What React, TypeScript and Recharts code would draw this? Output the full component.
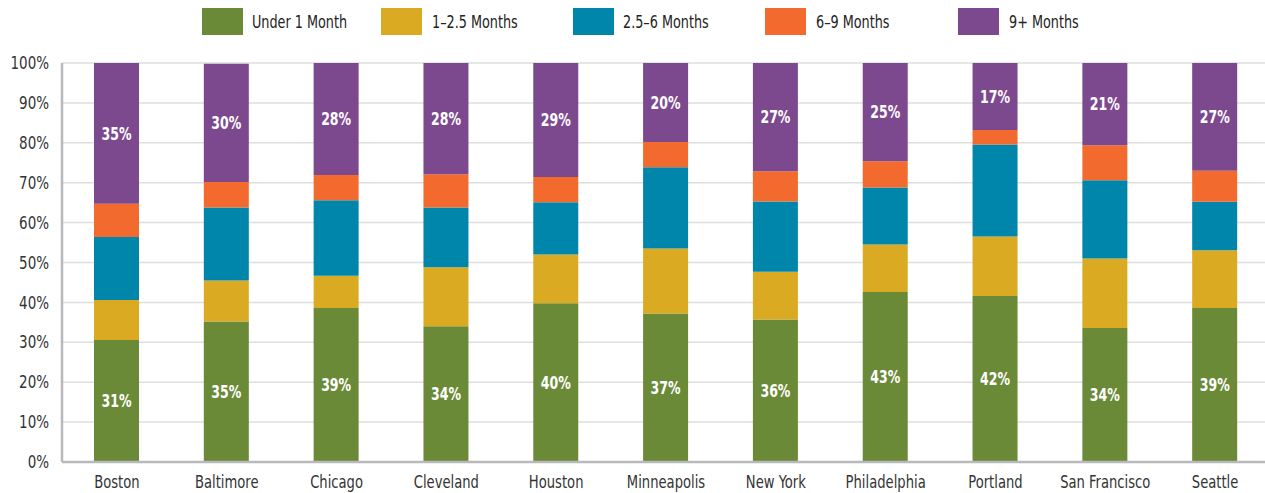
import React from "react";
import {
    BarChart,
    Bar,
    XAxis,
    YAxis,
    CartesianGrid,
    LabelList,
} from "recharts";

const cities = [
    "Boston",
    "Baltimore",
    "Chicago",
    "Cleveland",
    "Houston",
    "Minneapolis",
    "New York",
    "Philadelphia",
    "Portland",
    "San Francisco",
    "Seattle",
];

// share of listings (%) per time bucket
const under1 = [30.6, 35.2, 38.6, 34.0, 39.8, 37.2, 35.7, 42.6, 41.6, 33.6, 38.6];
const oneTo2_5 = [10.0, 10.3, 8.1, 14.8, 12.2, 16.3, 12.0, 11.9, 14.9, 17.4, 14.5];
const twoHalfTo6 = [15.8, 18.3, 18.9, 15.0, 13.1, 20.4, 17.6, 14.3, 23.1, 19.6, 12.1];
const sixTo9 = [8.3, 6.4, 6.3, 8.3, 6.3, 6.3, 7.6, 6.6, 3.6, 8.8, 7.8];
const ninePlus = [35.3, 29.6, 28.1, 27.9, 28.6, 19.8, 27.1, 24.6, 16.8, 20.6, 27.0];

const yTicks = [0, 10, 20, 30, 40, 50, 60, 70, 80, 90, 100];

const series = [
    { key: "under1", name: "Under 1 Month", color: "#6B8A37", values: under1, label: true },
    { key: "oneTo2_5", name: "1–2.5 Months", color: "#DAAA22", values: oneTo2_5, label: false },
    { key: "twoHalfTo6", name: "2.5–6 Months", color: "#0085AB", values: twoHalfTo6, label: false },
    { key: "sixTo9", name: "6–9 Months", color: "#F26A2E", values: sixTo9, label: false },
    { key: "ninePlus", name: "9+ Months", color: "#7D498E", values: ninePlus, label: true },
];

const data = cities.map((city, i) => {
    const row: Record<string, string | number> = { city };
    series.forEach((s) => {
        row[s.key] = s.values[i];
    });
    return row;
});

const FONT = '"DejaVu Sans Condensed", "DejaVu Sans", sans-serif';

// legend swatch / text left edges
const swatchX = [202, 381, 573, 765, 958];
const textX = [252, 432, 623, 816, 1009];

const XTick = ({ x, y, payload }: any) => (
    <text
        transform={`translate(${x},${y}) scale(0.86,1)`}
        textAnchor="middle"
        dy="0.75em"
        fill="#333"
        fontSize={17}
        fontFamily={FONT}
    >
        {payload.value}
    </text>
);

const YTick = ({ x, y, payload }: any) => (
    <text
        transform={`translate(${x},${y}) scale(0.88,1)`}
        textAnchor="end"
        dy="0.36em"
        fill="#333"
        fontSize={17}
        fontFamily={FONT}
    >
        {`${payload.value}%`}
    </text>
);

const BarLabel = ({ x, y, width, height, value }: any) => (
    <text
        transform={`translate(${x + width / 2},${y + height / 2}) scale(0.82,1)`}
        textAnchor="middle"
        dy="0.36em"
        fill="#fff"
        fontSize={17}
        fontWeight="bold"
        fontFamily={FONT}
    >
        {`${Math.round(value)}%`}
    </text>
);

const App = () => {
    return (
        <div
            style={{
                position: "absolute",
                left: 0,
                top: 0,
                width: 1265,
                height: 493,
                overflow: "hidden",
                background: "#fff",
                fontFamily: FONT,
            }}
        >
            {series.map((s, i) => (
                <React.Fragment key={s.key}>
                    <div
                        style={{
                            position: "absolute",
                            left: swatchX[i],
                            top: 8,
                            width: 41,
                            height: 27,
                            background: s.color,
                        }}
                    />
                    <div
                        style={{
                            position: "absolute",
                            left: textX[i],
                            top: 10,
                            fontSize: 18,
                            lineHeight: "24px",
                            color: "#222",
                            whiteSpace: "nowrap",
                            transform: "scaleX(0.79)",
                            transformOrigin: "left center",
                        }}
                    >
                        {s.name}
                    </div>
                </React.Fragment>
            ))}
            {/* plot runs a few px past the right edge, like the original */}
            <BarChart
                width={1270}
                height={493}
                data={data}
                margin={{ top: 63, right: 0, bottom: 0, left: 0 }}
                barSize={45}
            >
                <CartesianGrid
                    vertical={false}
                    stroke="#dedede"
                    strokeWidth={1.5}
                />
                <XAxis
                    dataKey="city"
                    height={31}
                    tickLine={false}
                    tickMargin={7}
                    axisLine={{ stroke: "#b9b9bd", strokeWidth: 2.5 }}
                    tick={<XTick />}
                    interval={0}
                />
                <YAxis
                    width={62}
                    domain={[0, 100]}
                    ticks={yTicks}
                    tickLine={false}
                    tickMargin={7}
                    axisLine={{ stroke: "#b9b9bd", strokeWidth: 2.5 }}
                    tick={<YTick />}
                />
                {series.map((s) => (
                    <Bar
                        key={s.key}
                        dataKey={s.key}
                        name={s.name}
                        stackId="a"
                        fill={s.color}
                        isAnimationActive={false}
                    >
                        {s.label && (
                            <LabelList dataKey={s.key} content={<BarLabel />} />
                        )}
                    </Bar>
                ))}
            </BarChart>
        </div>
    );
};

export default App;
